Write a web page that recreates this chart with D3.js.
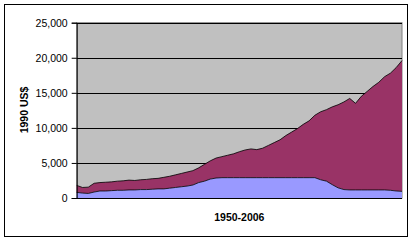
<!DOCTYPE html>
<html><head><meta charset="utf-8">
<script src="https://cdn.jsdelivr.net/npm/d3@7"></script>
<style>
body{margin:0;background:#fff;}
svg{display:block;font-family:"Liberation Sans",Arial,sans-serif;}
</style></head>
<body><svg id="c" width="413" height="242"></svg>
<script>
const years = d3.range(1950, 2007);
const baseSeries = [800,700,650,850,1000,1000,1050,1100,1100,1150,
  1150,1200,1200,1250,1300,1300,1400,1500,1600,1700,
  1850,2200,2400,2700,2850,2900,2900,2900,2900,2900,
  2900,2900,2900,2900,2900,2900,2900,2900,2900,2900,
  2900,2900,2600,2400,1900,1450,1200,1150,1150,1150,
  1150,1150,1150,1150,1100,1000,950];
const totalSeries = [1800,1500,1550,2100,2200,2250,2300,2400,2450,2550,
  2500,2600,2650,2750,2800,2950,3100,3300,3500,3700,
  3900,4300,4800,5300,5700,5900,6100,6300,6600,6850,
  7000,6900,7100,7500,7900,8300,8900,9400,9900,10500,
  11000,11800,12300,12600,13000,13300,13700,14200,13500,14500,
  15200,15900,16500,17300,17800,18600,19600];
const yTicks = [0,5000,10000,15000,20000,25000];
const yLabel = "1990 US$";
const xLabel = "1950-2006";

const svg = d3.select("#c");
const L = 76.7, R = 402, T = 22.7, B = 198;
const x = d3.scaleLinear().domain([1950, 2006]).range([L, R]);
const y = d3.scaleLinear().domain([0, 25000]).range([B, T]);

// outer border
svg.append("rect").attr("x",4.5).attr("y",4.5).attr("width",403).attr("height",232)
  .attr("fill","#fff").attr("stroke","#000").attr("stroke-width",1);
// plot bg
svg.append("rect").attr("x",L).attr("y",T).attr("width",R-L).attr("height",B-T)
  .attr("fill","#C0C0C0").attr("stroke","#808080").attr("stroke-width",1);
// grid
svg.append("g").selectAll("line").data(yTicks.filter(d=>d>0)).join("line")
  .attr("x1",L).attr("x2",R).attr("y1",d=>Math.round(y(d))+0.5).attr("y2",d=>Math.round(y(d))+0.5)
  .attr("stroke","#000").attr("stroke-width",1);

const data = years.map((yr,i)=>({yr, b: baseSeries[i], t: totalSeries[i]}));
const areaTop = d3.area().x(d=>x(d.yr)).y0(d=>y(d.b)).y1(d=>y(d.t));
const areaBase = d3.area().x(d=>x(d.yr)).y0(y(0)).y1(d=>y(d.b));
svg.append("path").datum(data).attr("d",areaTop).attr("fill","#993366");
svg.append("path").datum(data).attr("d",areaBase).attr("fill","#9999FF");
const lineT = d3.line().x(d=>x(d.yr)).y(d=>y(d.t));
const lineB = d3.line().x(d=>x(d.yr)).y(d=>y(d.b));
svg.append("path").datum(data).attr("d",lineT).attr("fill","none").attr("stroke","#000").attr("stroke-width",0.8);
svg.append("path").datum(data).attr("d",lineB).attr("fill","none").attr("stroke","#000").attr("stroke-width",0.8);

// y axis
const ya = svg.append("g").attr("transform",`translate(${L},0)`)
  .call(d3.axisLeft(y).tickValues(yTicks).tickSize(5).tickPadding(4).tickFormat(d3.format(",")));
ya.select(".domain").attr("stroke","#000");
ya.selectAll("line").attr("stroke","#000");
ya.selectAll("text").attr("font-size","10.5px").attr("fill","#000").attr("font-family","Liberation Sans, Arial, sans-serif");
// x axis line
svg.append("line").attr("x1",L).attr("x2",R).attr("y1",B+0.5).attr("y2",B+0.5).attr("stroke","#000");

svg.append("text").attr("transform","translate(28,110) rotate(-90)").attr("text-anchor","middle")
  .attr("font-weight","bold").attr("font-size","10.5px").text(yLabel);
svg.append("text").attr("x",(L+R)/2).attr("y",221).attr("text-anchor","middle")
  .attr("font-weight","bold").attr("font-size","10.5px").text(xLabel);
</script></body></html>
